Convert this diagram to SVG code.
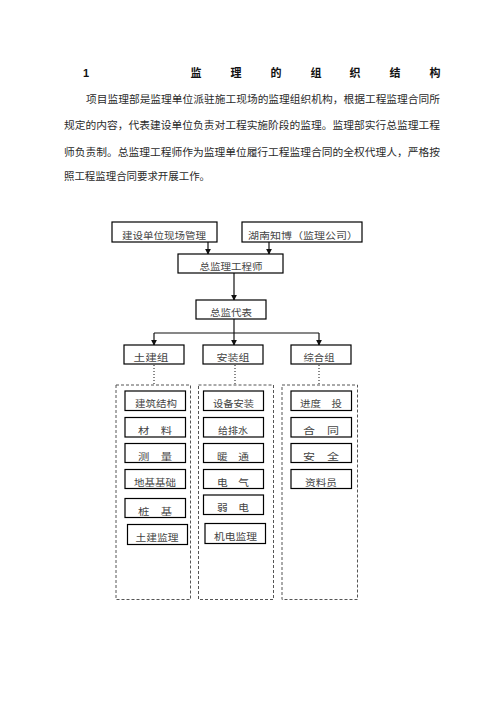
<svg xmlns="http://www.w3.org/2000/svg" width="496" height="702" viewBox="0 0 496 702">
<defs>
<style>
.t{font-family:"Liberation Serif","Noto Sans CJK SC",sans-serif;fill:#2a2a2a}
.h{font-family:"Liberation Sans","Noto Sans CJK SC",sans-serif;font-weight:bold;font-size:11px;fill:#111;text-anchor:middle}
.p{font-size:10.5px}
.b{fill:#fff;stroke:#000;stroke-width:1.2}
.bt{font-size:9.5px;text-anchor:middle;fill:#444}
.col{fill:none;stroke:#555;stroke-width:1;stroke-dasharray:3 2}
.ln{fill:none;stroke:#111;stroke-width:1.2}
.dot{fill:none;stroke:#111;stroke-width:1;stroke-dasharray:1 2}
</style>
<marker id="ar" viewBox="0 0 8 8" refX="7" refY="4" markerWidth="6" markerHeight="6" orient="auto" markerUnits="userSpaceOnUse">
<path d="M0,0 L8,4 L0,8 z" fill="#111"/>
</marker>
</defs>
<rect width="496" height="702" fill="#fff"/>

<g id="header">
<text class="h" x="86" y="77">1</text>
<text class="h" x="196" y="77">监</text>
<text class="h" x="236" y="77">理</text>
<text class="h" x="276" y="77">的</text>
<text class="h" x="316" y="77">组</text>
<text class="h" x="355" y="77">织</text>
<text class="h" x="395" y="77">结</text>
<text class="h" x="435" y="77">构</text>
<text class="t p" x="86" y="103" textLength="354" lengthAdjust="spacingAndGlyphs">项目监理部是监理单位派驻施工现场的监理组织机构，根据工程监理合同所</text>
<text class="t p" x="64" y="129" textLength="376" lengthAdjust="spacingAndGlyphs">规定的内容，代表建设单位负责对工程实施阶段的监理。监理部实行总监理工程</text>
<text class="t p" x="64" y="156" textLength="376" lengthAdjust="spacingAndGlyphs">师负责制。总监理工程师作为监理单位履行工程监理合同的全权代理人，严格按</text>
<text class="t p" x="64" y="180" textLength="146" lengthAdjust="spacingAndGlyphs">照工程监理合同要求开展工作。</text>
</g>

<g id="connectors">
<line class="ln" x1="208" y1="242" x2="208" y2="254" marker-end="url(#ar)"/>
<line class="ln" x1="269" y1="242" x2="269" y2="254" marker-end="url(#ar)"/>
<line class="ln" x1="234" y1="273" x2="234" y2="300" marker-end="url(#ar)"/>
<line class="ln" x1="234" y1="319" x2="234" y2="345" marker-end="url(#ar)"/>
<line class="ln" x1="154" y1="333" x2="319" y2="333"/>
<line class="ln" x1="154" y1="333" x2="154" y2="345" marker-end="url(#ar)"/>
<line class="ln" x1="319" y1="333" x2="319" y2="345" marker-end="url(#ar)"/>
<line class="dot" x1="154" y1="365" x2="154" y2="385"/>
<line class="dot" x1="235" y1="365" x2="235" y2="385"/>
<line class="dot" x1="319" y1="365" x2="319" y2="385"/>
</g>

<g id="n-owner"><rect class="b" x="112" y="222" width="105" height="20"/><text class="t bt" x="164" y="238.5" textLength="84" lengthAdjust="spacingAndGlyphs">建设单位现场管理</text></g>
<g id="n-company"><rect class="b" x="242" y="222" width="120" height="20"/><text class="t bt" x="303" y="238.5" textLength="110" lengthAdjust="spacingAndGlyphs">湖南知博（监理公司）</text></g>
<g id="n-chief"><rect class="b" x="178" y="254" width="105" height="19"/><text class="t bt" x="231" y="270" textLength="63" lengthAdjust="spacingAndGlyphs">总监理工程师</text></g>
<g id="n-deputy"><rect class="b" x="196" y="300" width="70" height="19"/><text class="t bt" x="231" y="316" textLength="42" lengthAdjust="spacingAndGlyphs">总监代表</text></g>
<g id="n-civil"><rect class="b" x="124" y="345" width="60" height="19"/><text class="t bt" x="151" y="361" textLength="35" lengthAdjust="spacingAndGlyphs">土建组</text></g>
<g id="n-install"><rect class="b" x="203" y="345" width="60" height="19"/><text class="t bt" x="233" y="361" textLength="33" lengthAdjust="spacingAndGlyphs">安装组</text></g>
<g id="n-general"><rect class="b" x="291" y="345" width="60" height="19"/><text class="t bt" x="319" y="361" textLength="31" lengthAdjust="spacingAndGlyphs">综合组</text></g>

<g id="col-civil">
<rect class="col" x="116" y="385" width="74.5" height="214.5"/>
<g id="c1"><rect class="b" x="125" y="391" width="60.5" height="19.5"/><text class="t bt" x="156" y="407" textLength="42" lengthAdjust="spacingAndGlyphs">建筑结构</text></g>
<g id="c2"><rect class="b" x="125" y="417.5" width="60.5" height="19.5"/><text class="t bt" x="155" y="433.5" textLength="34" lengthAdjust="spacingAndGlyphs">材　料</text></g>
<g id="c3"><rect class="b" x="125" y="443.5" width="60.5" height="19"/><text class="t bt" x="155" y="459.5" textLength="34" lengthAdjust="spacingAndGlyphs">测　量</text></g>
<g id="c4"><rect class="b" x="125" y="469.5" width="60.5" height="19"/><text class="t bt" x="155" y="485.5" textLength="42" lengthAdjust="spacingAndGlyphs">地基基础</text></g>
<g id="c5"><rect class="b" x="125" y="498.5" width="60.5" height="19"/><text class="t bt" x="155" y="514.5" textLength="34" lengthAdjust="spacingAndGlyphs">桩　基</text></g>
<g id="c6"><rect class="b" x="127.5" y="524.5" width="60" height="20"/><text class="t bt" x="157" y="541" textLength="43" lengthAdjust="spacingAndGlyphs">土建监理</text></g>
</g>

<g id="col-install">
<rect class="col" x="198.5" y="385" width="75" height="214.5"/>
<g id="i1"><rect class="b" x="203.5" y="391" width="60" height="19.5"/><text class="t bt" x="233.5" y="407" textLength="41" lengthAdjust="spacingAndGlyphs">设备安装</text></g>
<g id="i2"><rect class="b" x="203.5" y="417.5" width="60" height="19.5"/><text class="t bt" x="233" y="433.5" textLength="30" lengthAdjust="spacingAndGlyphs">给排水</text></g>
<g id="i3"><rect class="b" x="203.5" y="443.5" width="60" height="19"/><text class="t bt" x="233" y="459.5" textLength="32" lengthAdjust="spacingAndGlyphs">暖　通</text></g>
<g id="i4"><rect class="b" x="203.5" y="469.5" width="60" height="19"/><text class="t bt" x="233" y="485.5" textLength="32" lengthAdjust="spacingAndGlyphs">电　气</text></g>
<g id="i5"><rect class="b" x="203.5" y="495" width="60" height="19.5"/><text class="t bt" x="233" y="511" textLength="32" lengthAdjust="spacingAndGlyphs">弱　电</text></g>
<g id="i6"><rect class="b" x="205" y="523.5" width="60.5" height="20"/><text class="t bt" x="235.5" y="540" textLength="43" lengthAdjust="spacingAndGlyphs">机电监理</text></g>
</g>

<g id="col-general">
<rect class="col" x="282" y="385" width="75.5" height="214.5"/>
<g id="g1"><rect class="b" x="291" y="391" width="60.5" height="19.5"/><text class="t bt" x="321" y="407" textLength="42" lengthAdjust="spacingAndGlyphs">进度　投</text></g>
<g id="g2"><rect class="b" x="291" y="417.5" width="60.5" height="19.5"/><text class="t bt" x="321" y="433.5" textLength="36" lengthAdjust="spacingAndGlyphs">合　同</text></g>
<g id="g3"><rect class="b" x="291" y="443.5" width="60.5" height="19"/><text class="t bt" x="321" y="459.5" textLength="36" lengthAdjust="spacingAndGlyphs">安　全</text></g>
<g id="g4"><rect class="b" x="291" y="469.5" width="60.5" height="19"/><text class="t bt" x="321" y="485.5" textLength="32" lengthAdjust="spacingAndGlyphs">资料员</text></g>
</g>
</svg>
